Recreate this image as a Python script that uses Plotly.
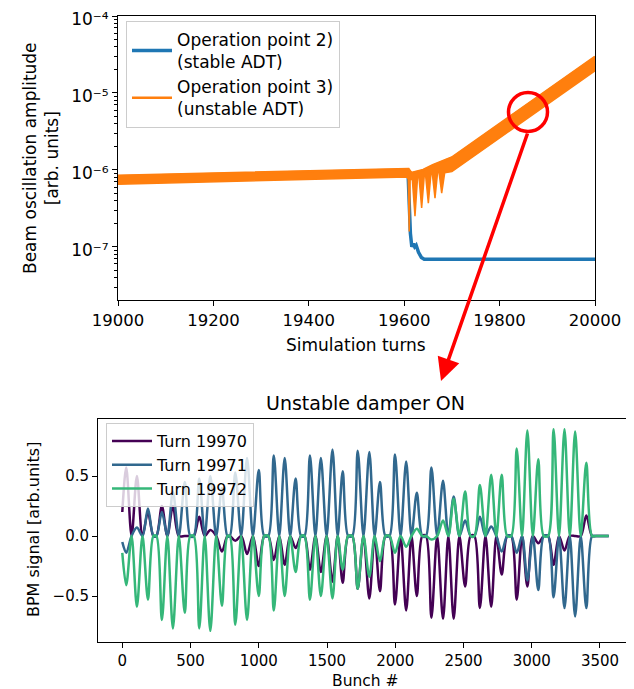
import plotly.graph_objects as go

# ---------------- Top panel data ----------------
turn_blue = [19000, 19608, 19613, 19616, 19619, 19622, 19625, 19630, 19636, 19642, 20000]
amp_blue = [7.4e-7, 9.4e-7, 1.5e-7, 1.0e-7, 1.1e-7, 1.0e-7, 1.05e-7, 8.5e-8, 7.3e-8, 6.9e-8, 6.9e-8]

turn_orange_upper = [19000, 19606, 19609, 19615, 19640, 19660, 19680, 19700, 20000]
amp_orange_upper = [8.4e-7, 1.03e-6, 1.03e-6, 9.1e-7, 1.0e-6, 1.15e-6, 1.3e-6, 1.45e-6, 2.95e-5]

turn_orange_lower = [19000, 19606, 19608.5, 19610.5, 19612.5, 19617, 19622.6, 19628, 19631,
                     19636.6, 19642, 19645, 19650.6, 19656, 19659, 19664.6, 19670, 19673,
                     19678.6, 19685, 19700, 20000]
amp_orange_lower = [6.5e-7, 8.1e-7, 7.5e-7, 1.58e-7, 7.5e-7, 7.5e-7, 2.5e-7, 8.0e-7, 8.0e-7,
                    3.2e-7, 8.3e-7, 8.3e-7, 3.7e-7, 8.8e-7, 8.8e-7, 4.3e-7, 9.3e-7, 9.3e-7,
                    5.0e-7, 9.2e-7, 9.5e-7, 1.94e-5]

top_xticks = [19000, 19200, 19400, 19600, 19800, 20000]
top_xticktext = ["19000", "19200", "19400", "19600", "19800", "20000"]
top_yticks = [1e-7, 1e-6, 1e-5, 1e-4]
top_yticktext = ["10⁻⁷", "10⁻⁶", "10⁻⁵", "10⁻⁴"]
top_yminor = [m * 10.0 ** e for e in (-8, -7, -6, -5) for m in range(2, 10)]

# ---------------- Bottom panel data ----------------
bunch_hump = [29, 107, 188, 290, 371, 458, 564, 645, 730, 828, 914, 1000,
              1110, 1190, 1270, 1375, 1455, 1540, 1615, 1725, 1810, 1888,
              1998, 2080, 2158, 2265, 2350, 2428, 2512, 2620, 2703, 2780,
              2890, 2968, 3048, 3160, 3240, 3318, 3400]
bunch_zero = [68, 148, 228, 250, 330, 414, 498, 524, 604, 688, 770, 788,
              871, 957, 1040, 1070, 1150, 1230, 1310, 1335, 1415, 1497, 1578,
              1655, 1685, 1767, 1849, 1928, 1958, 2039, 2119, 2198, 2225,
              2307, 2389, 2470, 2552, 2580, 2661, 2741, 2820, 2850, 2929,
              3008, 3088, 3120, 3200, 3279, 3359, 3442, 3470, 3564]

start_19970, start_19971, start_19972 = 0.20, -0.05, -0.14
turn_19970 = [0.57, 0.50, 0.20, 0.25, 0.25, 0.0, 0.16, 0.05, -0.13, -0.04, -0.15, -0.25,
              -0.20, -0.24, -0.10, -0.28, -0.30, -0.38, -0.39, -0.44, -0.52, -0.46,
              -0.57, -0.62, -0.50, -0.68, -0.69, -0.69, -0.42, -0.60, -0.59, -0.32,
              -0.53, -0.42, -0.06, -0.24, -0.12, 0.0, 0.17]
turn_19971 = [-0.14, 0.07, 0.23, 0.20, 0.37, 0.45, 0.48, 0.50, 0.40, 0.53, 0.65, 0.55,
              0.67, 0.65, 0.48, 0.67, 0.65, 0.72, 0.54, 0.71, 0.70, 0.45,
              0.68, 0.62, 0.36, 0.57, 0.46, 0.33, 0.13, 0.16, 0.08, -0.13,
              -0.14, -0.37, -0.45, -0.51, -0.60, -0.67, -0.60]
turn_19972 = [-0.41, -0.59, -0.53, -0.70, -0.77, -0.64, -0.77, -0.79, -0.58, -0.74, -0.70, -0.50,
              -0.62, -0.50, -0.30, -0.53, -0.50, -0.52, -0.28, -0.44, -0.34, -0.21,
              -0.14, -0.09, 0.06, -0.03, 0.13, 0.31, 0.37, 0.425, 0.51, 0.51,
              0.73, 0.88, 0.64, 0.89, 0.89, 0.87, 0.61]
bottom_xticks = [0, 500, 1000, 1500, 2000, 2500, 3000, 3500]
bottom_xticktext = ["0", "500", "1000", "1500", "2000", "2500", "3000", "3500"]
bottom_yticks = [-0.5, 0.0, 0.5]
bottom_yticktext = ["−0.5", "0.0", "0.5"]


def build_series(start, humps):
    pts = [(0, start)] + list(zip(bunch_hump, humps)) + [(b, 0.0) for b in bunch_zero]
    pts.sort(key=lambda p: p[0])
    return [p[0] for p in pts], [p[1] for p in pts]


fig = go.Figure()

# Top panel
fig.add_trace(go.Scatter(x=turn_blue, y=amp_blue, mode="lines", name="Operation point 2)<br>(stable ADT)",
                         line=dict(color="#1f77b4", width=3.5), xaxis="x", yaxis="y",
                         legend="legend", legendgroup="op2"))
fig.add_trace(go.Scatter(x=turn_orange_upper + turn_orange_lower[::-1],
                         y=amp_orange_upper + amp_orange_lower[::-1],
                         mode="lines", fill="toself", fillcolor="#ff7f0e",
                         line=dict(color="#ff7f0e", width=1.5), showlegend=False,
                         xaxis="x", yaxis="y", hoverinfo="skip", legendgroup="op3"))
fig.add_trace(go.Scatter(x=turn_orange_upper, y=amp_orange_upper, mode="lines",
                         name="Operation point 3)<br>(unstable ADT)",
                         line=dict(color="#ff7f0e", width=2.5), xaxis="x", yaxis="y",
                         legend="legend", legendgroup="op3"))

# Bottom panel
for name, start, humps, col in [("Turn 19970", start_19970, turn_19970, "#440154"),
                                ("Turn 19971", start_19971, turn_19971, "#31688e"),
                                ("Turn 19972", start_19972, turn_19972, "#35b779")]:
    bx, by = build_series(start, humps)
    fig.add_trace(go.Scatter(x=bx, y=by, mode="lines", name=name,
                             line=dict(color=col, width=2.5, shape="spline", smoothing=0.9),
                             xaxis="x2", yaxis="y2", legend="legend2", legendgroup=name))

W, H = 634, 689
OFF = 8  # page body margin of the html page
px = lambda v: (v - OFF) / W
py = lambda v: 1 - (v - OFF) / H

axis_common = dict(showline=True, linecolor="black", linewidth=1, mirror=True, ticks="outside",
                   ticklen=5, tickwidth=1, tickcolor="black", showgrid=False, zeroline=False,
                   automargin=False, ticklabeloverflow="allow")

fig.update_layout(
    template="none",
    width=W, height=H, margin=dict(l=0, r=0, t=0, b=0, pad=0, autoexpand=False),
    paper_bgcolor="white", plot_bgcolor="white",
    font=dict(family="DejaVu Sans", color="black", size=16),
    xaxis=dict(domain=[px(118), px(595)], anchor="y", range=[19000, 20000],
               tickmode="array", tickvals=top_xticks, ticktext=top_xticktext,
               tickfont=dict(size=16.5), **axis_common),
    yaxis=dict(domain=[py(300), py(16)], anchor="x", type="log", range=[-7.69, -4],
               tickmode="array", tickvals=top_yticks, ticktext=top_yticktext, tickfont=dict(size=17),
               ticklabelshift=3,
               minor=dict(tickmode="array", tickvals=top_yminor, ticks="outside", ticklen=3,
                          tickcolor="black", showgrid=False),
               **axis_common),
    xaxis2=dict(domain=[px(98), px(633)], anchor="y2", range=[-178, 3742],
                tickmode="array", tickvals=bottom_xticks, ticktext=bottom_xticktext,
                tickfont=dict(size=15), **axis_common),
    yaxis2=dict(domain=[py(642), py(419)], anchor="x2", range=[-0.883, 0.975],
                tickmode="array", tickvals=bottom_yticks, ticktext=bottom_yticktext,
                tickfont=dict(size=15), **axis_common),
    legend=dict(x=px(126), y=py(21), xanchor="left", yanchor="top",
                bgcolor="rgba(255,255,255,0.8)", bordercolor="#cccccc", borderwidth=1,
                font=dict(size=17), tracegroupgap=0, itemwidth=40),
    legend2=dict(x=px(106), y=py(423), xanchor="left", yanchor="top",
                 bgcolor="rgba(255,255,255,0.8)", bordercolor="#cccccc", borderwidth=1,
                 font=dict(size=16), tracegroupgap=0, itemwidth=40),
    shapes=[dict(type="circle", xref="paper", yref="paper",
                 x0=px(508.5), x1=px(547.5), y0=py(131.5), y1=py(92.5),
                 line=dict(color="red", width=3.5))],
    annotations=[
        dict(text="Beam oscillation amplitude<br>[arb. units]", xref="paper", yref="paper",
             x=px(41), y=py(158), textangle=-90, showarrow=False, font=dict(size=17),
             xanchor="center", yanchor="middle"),
        dict(text="Simulation turns", xref="paper", yref="paper", x=px(356), y=py(345),
             showarrow=False, font=dict(size=17), xanchor="center", yanchor="middle"),
        dict(text="Unstable damper ON", xref="paper", yref="paper", x=px(365), y=py(403),
             showarrow=False, font=dict(size=19), xanchor="center", yanchor="middle"),
        dict(text="Bunch #", xref="paper", yref="paper", x=px(365), y=py(681),
             showarrow=False, font=dict(size=15.5), xanchor="center", yanchor="middle"),
        dict(text="BPM signal [arb.units]", xref="paper", yref="paper", x=px(33), y=py(530),
             textangle=-90, showarrow=False, font=dict(size=16), xanchor="center", yanchor="middle"),
        dict(text="", xref="paper", yref="paper", x=px(441), y=py(381), showarrow=True,
             ax=87, ay=-249, arrowcolor="red", arrowwidth=3.5, arrowhead=2, arrowsize=1.3,
             standoff=0),
    ],
)

fig.write_html("out.html")
